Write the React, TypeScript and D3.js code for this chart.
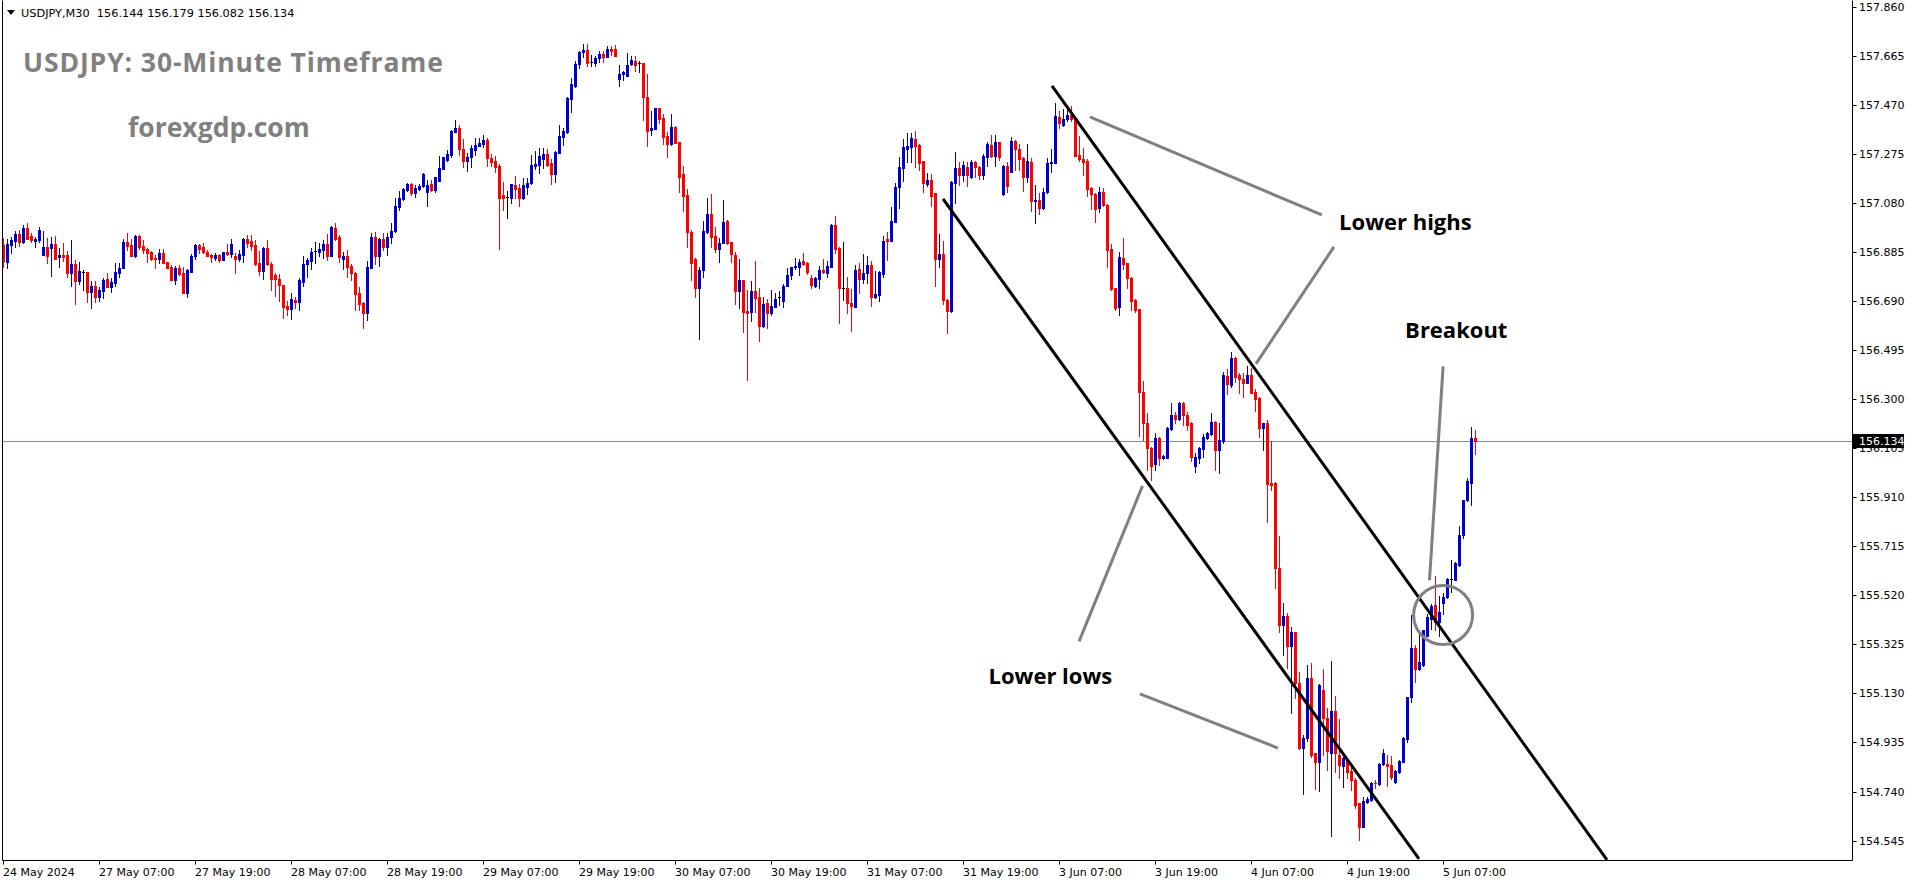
import React from "react";
import * as d3 from "d3";

// ---- OHLC data (USDJPY M30), bar 0 = 24 May 2024 ----
const opens = [
156.913,156.847,156.914,156.929,156.957,156.925,156.979,156.949,156.930,156.933,
156.874,156.905,156.902,156.917,156.863,156.873,156.873,156.803,156.837,156.771,
156.807,156.806,156.727,156.750,156.704,156.731,156.778,156.745,156.763,156.803,
156.823,156.925,156.913,156.867,156.949,156.909,156.897,156.886,156.860,156.857,
156.880,156.844,156.825,156.774,156.823,156.800,156.723,156.807,156.869,156.913,
156.904,156.886,156.873,156.860,156.874,156.853,156.886,156.877,156.867,156.857,
156.874,156.937,156.929,156.913,156.840,156.811,156.901,156.839,156.794,156.778,
156.754,156.670,156.658,156.694,156.688,156.767,156.838,156.851,156.889,156.886,
156.893,156.917,156.869,156.982,156.946,156.859,156.869,156.831,156.803,156.723,
156.684,156.641,156.823,156.944,156.867,156.937,156.906,156.944,156.969,157.063,
157.096,157.132,157.156,157.121,157.136,157.149,157.125,157.156,157.132,157.169,
157.215,157.251,157.271,157.363,157.377,157.295,157.248,157.262,157.291,157.308,
157.315,157.330,157.258,157.247,157.227,157.112,157.102,157.101,157.152,157.138,
157.101,157.145,157.158,157.228,157.231,157.255,157.275,157.238,157.195,157.280,
157.344,157.363,157.493,157.545,157.631,157.678,157.688,157.642,157.638,157.658,
157.672,157.662,157.691,157.691,157.573,157.592,157.583,157.631,157.646,157.635,
157.638,157.503,157.370,157.374,157.456,157.417,157.346,157.313,157.383,157.324,
157.195,157.112,156.966,156.857,156.743,156.814,156.966,157.036,156.949,156.896,
156.922,157.008,156.924,156.873,156.731,156.774,156.651,156.648,156.730,156.704,
156.592,156.681,156.641,156.668,156.704,156.692,156.751,156.794,156.824,156.827,
156.849,156.840,156.781,156.751,156.777,156.814,156.800,156.827,156.993,156.900,
156.743,156.741,156.681,156.668,156.816,156.777,156.803,156.834,156.704,156.714,
156.796,156.936,156.930,157.006,157.145,157.220,157.295,157.304,157.334,157.311,
157.247,157.156,157.171,157.121,156.857,156.877,156.694,156.651,157.161,157.218,
157.191,157.222,157.182,157.244,157.222,157.191,157.264,157.311,157.267,157.321,
157.115,157.227,157.204,157.328,157.293,157.258,157.184,157.244,157.089,157.092,
157.059,157.122,157.240,157.238,157.423,157.390,157.413,157.430,157.414,157.271,
157.255,157.247,157.138,157.116,157.059,157.125,157.072,156.897,156.741,156.665,
156.860,156.840,156.783,156.694,156.659,156.330,156.204,156.107,156.041,156.147,
156.067,156.067,156.181,156.237,156.221,156.286,156.237,156.204,156.034,156.067,
156.102,156.144,156.160,156.211,156.098,156.134,156.392,156.356,156.465,156.396,
156.379,156.363,156.396,156.330,156.306,156.187,156.206,155.966,155.966,155.630,
155.402,155.438,155.319,155.376,155.173,154.914,154.952,155.190,154.892,154.856,
155.144,155.034,154.893,155.060,154.885,154.843,154.866,154.823,154.786,154.695,
154.600,154.700,154.707,154.773,154.770,154.850,154.850,154.846,154.779,154.819,
154.859,154.948,155.117,155.312,155.226,155.243,155.360,155.426,155.482,155.413,
155.491,155.512,155.584,155.581,155.641,155.760,155.899,155.968,156.144];

const highs = [
156.940,156.936,156.946,156.969,156.973,156.992,157.002,156.959,156.946,156.986,
156.969,156.940,156.944,156.949,156.900,156.920,156.889,156.933,156.853,156.847,
156.814,156.806,156.771,156.770,156.745,156.783,156.801,156.781,156.843,156.843,
156.936,156.962,156.936,156.953,156.953,156.933,156.900,156.890,156.873,156.897,
156.897,156.847,156.834,156.830,156.834,156.824,156.816,156.877,156.917,156.917,
156.920,156.893,156.876,156.880,156.877,156.886,156.917,156.936,156.880,156.893,
156.942,156.953,156.953,156.933,156.890,156.906,156.933,156.847,156.800,156.798,
156.754,156.692,156.721,156.704,156.781,156.870,156.860,156.900,156.926,156.920,
156.933,156.957,156.989,157.000,156.953,156.886,156.893,156.838,156.807,156.747,
156.688,156.851,156.962,156.966,156.940,156.962,156.962,157.002,157.099,157.129,
157.139,157.161,157.158,157.152,157.156,157.200,157.171,157.171,157.184,157.268,
157.264,157.291,157.370,157.410,157.390,157.334,157.277,157.311,157.337,157.337,
157.350,157.337,157.275,157.267,157.235,157.162,157.127,157.156,157.187,157.156,
157.178,157.178,157.271,157.288,157.297,157.297,157.295,157.254,157.287,157.390,
157.379,157.503,157.576,157.644,157.684,157.712,157.712,157.668,157.664,157.684,
157.684,157.704,157.704,157.708,157.629,157.605,157.675,157.664,157.666,157.646,
157.638,157.593,157.447,157.456,157.456,157.434,157.363,157.434,157.386,157.324,
157.227,157.136,156.973,156.860,156.824,157.010,157.101,157.116,156.983,156.940,
157.092,157.012,156.924,156.884,156.857,156.774,156.734,156.770,156.849,156.741,
156.705,156.697,156.734,156.723,156.730,156.758,156.820,156.827,156.860,156.857,
156.880,156.844,156.794,156.785,156.831,156.856,156.851,156.997,157.028,156.906,
156.926,156.787,156.737,156.834,156.840,156.877,156.867,156.851,156.811,156.811,
156.949,156.966,157.065,157.158,157.264,157.334,157.359,157.357,157.366,157.315,
157.247,157.198,157.195,157.121,156.957,156.930,156.697,157.167,157.284,157.244,
157.248,157.244,157.251,157.247,157.227,157.274,157.324,157.350,157.350,157.324,
157.231,157.244,157.341,157.330,157.315,157.262,157.315,157.258,157.152,157.118,
157.138,157.258,157.293,157.479,157.447,157.454,157.450,157.466,157.417,157.346,
157.297,157.254,157.145,157.119,157.145,157.138,157.075,156.916,156.741,156.884,
156.942,156.840,156.785,156.697,156.659,156.372,156.246,156.111,156.167,156.151,
156.078,156.191,156.284,156.250,156.290,156.290,156.250,156.210,156.085,156.111,
156.162,156.168,156.246,156.215,156.207,156.409,156.419,156.489,156.469,156.403,
156.403,156.432,156.423,156.339,156.310,156.204,156.217,156.134,155.972,155.756,
155.489,155.451,155.396,155.376,155.217,154.965,155.243,155.250,154.892,155.168,
155.226,155.071,155.259,155.120,155.029,154.878,154.872,154.839,154.793,154.695,
154.720,154.720,154.779,154.786,154.852,154.908,154.885,154.881,154.826,154.866,
154.958,155.117,155.442,155.323,155.369,155.382,155.445,155.486,155.597,155.518,
155.528,155.588,155.661,155.654,155.796,155.899,155.985,156.188,156.179];

const lows = [
156.827,156.823,156.882,156.906,156.910,156.920,156.936,156.926,156.906,156.926,
156.873,156.840,156.791,156.859,156.827,156.851,156.787,156.751,156.679,156.757,
156.734,156.688,156.664,156.688,156.692,156.701,156.745,156.727,156.750,156.787,
156.821,156.893,156.867,156.864,156.896,156.880,156.847,156.853,156.823,156.840,
156.840,156.821,156.774,156.758,156.794,156.723,156.707,156.807,156.857,156.882,
156.880,156.867,156.845,156.853,156.847,156.853,156.873,156.864,156.803,156.851,
156.847,156.906,156.893,156.834,156.794,156.778,156.834,156.734,156.710,156.692,
156.624,156.635,156.619,156.664,156.655,156.750,156.787,156.816,156.843,156.869,
156.860,156.853,156.869,156.932,156.847,156.818,156.787,156.774,156.655,156.655,
156.584,156.615,156.823,156.838,156.830,156.893,156.873,156.920,156.963,157.052,
157.092,157.129,157.112,157.105,157.132,157.145,157.069,157.129,157.125,157.169,
157.215,157.248,157.264,157.363,157.271,157.224,157.208,157.224,157.271,157.307,
157.304,157.227,157.227,157.204,156.897,157.052,157.022,157.081,157.099,157.068,
157.096,157.116,157.156,157.214,157.200,157.218,157.228,157.156,157.165,157.280,
157.311,157.357,157.443,157.542,157.615,157.659,157.626,157.626,157.626,157.642,
157.642,157.659,157.668,157.664,157.546,157.569,157.583,157.629,157.606,157.599,
157.410,157.307,157.350,157.374,157.399,157.315,157.264,157.311,157.317,157.125,
157.049,156.906,156.774,156.704,156.538,156.785,156.962,156.906,156.884,156.847,
156.920,156.917,156.844,156.677,156.661,156.568,156.376,156.612,156.648,156.531,
156.588,156.582,156.635,156.665,156.674,156.668,156.750,156.777,156.816,156.794,
156.834,156.796,156.741,156.747,156.741,156.800,156.787,156.824,156.880,156.604,
156.694,156.641,156.572,156.668,156.723,156.761,156.761,156.672,156.701,156.692,
156.787,156.853,156.930,157.006,157.061,157.169,157.244,157.244,157.224,157.211,
157.125,157.148,157.069,156.751,156.827,156.679,156.562,156.648,157.081,157.152,
157.169,157.148,157.178,157.182,157.174,157.174,157.228,157.264,157.228,157.251,
157.112,157.125,157.204,157.211,157.211,157.129,157.165,157.049,156.999,157.036,
157.056,157.119,157.204,157.238,157.377,157.387,157.407,157.407,157.267,157.248,
157.191,157.108,157.056,157.006,157.045,157.069,156.827,156.734,156.655,156.635,
156.818,156.741,156.655,156.645,156.155,156.138,156.019,155.979,156.019,156.038,
156.062,156.065,156.177,156.204,156.217,156.197,156.177,156.054,156.012,156.048,
156.069,156.142,156.158,156.019,156.008,156.125,156.319,156.350,156.367,156.326,
156.310,156.363,156.323,156.253,156.151,156.098,155.810,155.939,155.548,155.376,
155.283,155.230,155.054,155.111,154.908,154.730,154.942,154.879,154.749,154.743,
154.885,154.826,154.563,154.818,154.794,154.760,154.793,154.746,154.673,154.548,
154.598,154.696,154.703,154.753,154.766,154.846,154.763,154.789,154.775,154.815,
154.857,154.938,155.095,155.177,155.223,155.240,155.358,155.385,155.382,155.360,
155.446,155.510,155.535,155.579,155.638,155.747,155.896,155.879,156.082];

const closes = [
156.849,156.917,156.933,156.957,156.926,156.982,156.937,156.933,156.937,156.973,
156.905,156.867,156.917,156.859,156.873,156.864,156.803,156.837,156.771,156.810,
156.807,156.727,156.750,156.704,156.734,156.774,156.747,156.767,156.806,156.821,
156.925,156.910,156.869,156.949,156.906,156.893,156.882,156.857,156.859,156.880,
156.843,156.823,156.774,156.821,156.798,156.723,156.814,156.869,156.913,156.897,
156.884,156.869,156.863,156.873,156.853,156.886,156.877,156.917,156.859,156.877,
156.938,156.920,156.909,156.838,156.811,156.901,156.838,156.778,156.777,156.754,
156.668,156.658,156.698,156.688,156.774,156.838,156.853,156.886,156.889,156.897,
156.917,156.869,156.986,156.936,156.863,156.867,156.827,156.803,156.718,156.679,
156.641,156.826,156.944,156.867,156.937,156.906,156.944,156.970,157.068,157.099,
157.135,157.156,157.121,157.140,157.149,157.195,157.152,157.132,157.184,157.220,
157.262,157.275,157.367,157.379,157.293,157.248,157.264,157.297,157.311,157.320,
157.329,157.258,157.244,157.224,157.101,157.099,157.102,157.155,157.136,157.101,
157.152,157.161,157.231,157.235,157.267,157.275,157.231,157.195,157.281,157.346,
157.366,157.499,157.552,157.633,157.680,157.688,157.638,157.642,157.655,157.672,
157.662,157.692,157.685,157.666,157.593,157.600,157.629,157.649,157.629,157.635,
157.503,157.366,157.379,157.456,157.414,157.344,157.313,157.381,157.320,157.184,
157.109,156.966,156.840,156.743,156.814,156.970,157.036,156.946,156.897,156.920,
157.006,156.920,156.877,156.731,156.774,156.648,156.644,156.730,156.701,156.592,
156.679,156.641,156.670,156.697,156.704,156.751,156.794,156.827,156.830,156.844,
156.838,156.807,156.754,156.781,156.814,156.804,156.830,156.993,156.896,156.741,
156.743,156.681,156.670,156.814,156.777,156.803,156.834,156.704,156.718,156.807,
156.930,156.930,157.008,157.145,157.224,157.304,157.307,157.337,157.307,157.240,
157.158,157.171,157.109,156.857,156.877,156.694,156.651,157.165,157.218,157.191,
157.231,157.191,157.244,157.222,157.191,157.268,157.313,157.267,157.321,157.264,
157.227,157.149,157.328,157.293,157.255,157.184,157.248,157.089,157.092,157.061,
157.125,157.240,157.244,157.426,157.397,157.413,157.430,157.413,157.268,157.255,
157.244,157.136,157.115,157.056,157.125,157.072,156.893,156.738,156.661,156.863,
156.838,156.781,156.690,156.655,156.330,156.204,156.107,156.034,156.147,156.067,
156.074,156.187,156.237,156.221,156.286,156.237,156.197,156.070,156.070,156.107,
156.148,156.164,156.211,156.098,156.138,156.396,156.359,156.465,156.389,156.380,
156.363,156.396,156.326,156.301,156.187,156.204,155.962,155.959,155.628,155.402,
155.438,155.319,155.376,155.170,154.914,154.952,155.190,154.885,154.859,155.164,
155.031,154.903,155.060,154.893,154.846,154.874,154.819,154.786,154.687,154.600,
154.702,154.710,154.774,154.772,154.850,154.895,154.843,154.799,154.823,154.862,
154.954,155.117,155.312,155.226,155.256,155.382,155.435,155.479,155.415,155.453,
155.515,155.585,155.584,155.650,155.760,155.899,155.975,156.144,156.134];

const priceTicks = [157.860,157.665,157.470,157.275,157.080,156.885,156.690,156.495,156.300,
  156.105,155.910,155.715,155.520,155.325,155.130,154.935,154.740,154.545];

const timeLabels = ["24 May 2024","27 May 07:00","27 May 19:00","28 May 07:00","28 May 19:00",
  "29 May 07:00","29 May 19:00","30 May 07:00","30 May 19:00","31 May 07:00","31 May 19:00",
  "3 Jun 07:00","3 Jun 19:00","4 Jun 07:00","4 Jun 19:00","5 Jun 07:00"];
const BARS_PER_LABEL = 24;

const lastPrice = 156.134;
const headerText = "USDJPY,M30  156.144 156.179 156.082 156.134";

// drawn objects: [barIndex, price]
const channelLines = [
  [[262.125, 157.545], [400.875, 154.468]],
  [[234.875, 157.096], [353.875, 154.472]],
];
const pointerLines = [
  [[271.6, 157.422], [329.6, 157.032]],
  [[332.6, 156.905], [313.1, 156.440]],
  [[284.75, 155.955], [268.9, 155.337]],
  [[284.1, 155.128], [318.6, 154.913]],
  [[359.9, 156.430], [356.5, 155.580]],
];
const breakoutCircle = { bar: 359.9, price: 155.442 };
const notes = [
  { text: "Lower highs", bar: 333.9, price: 156.973 },
  { text: "Breakout", bar: 350.4, price: 156.541 },
  { text: "Lower lows", bar: 246.25, price: 155.168 },
];

export default function App() {
  const W = 1916, H = 884;
  const L = 2.5, R = 1852.5, T = 0.5, B = 860.5;
  const x = d3.scaleLinear().domain([0, 1]).range([3.5, 7.5]);
  const y = d3.scaleLinear().domain([154.545, 157.860]).range([840.6, 6.7]);
  const BLUE = "#0000cd", RED = "#ff0000";
  const axisFont = "'DejaVu Sans', sans-serif";
  const lineGen = d3.line<number[]>().x(d => x(d[0])).y(d => y(d[1]));

  const candles = opens.map((o, i) => {
    const c = closes[i];
    const col = c > o ? BLUE : c < o ? RED : "#000";
    const cx = x(i);
    const yt = Math.round(y(Math.max(o, c)));
    const yb = Math.round(y(Math.min(o, c)));
    const yh = Math.round(y(highs[i]));
    const yl = Math.round(y(lows[i]));
    return (
      <g key={i}>
        <rect x={cx - 0.5} y={yh} width={1} height={yl - yh + 1} fill={col} />
        <rect x={cx - 1.5} y={yt} width={3} height={yb - yt + 1} fill={col} />
      </g>
    );
  });

  const lastY = y(lastPrice);

  return (
    <div>
      <style>{`body{margin:0;background:#fff}`}</style>
      <svg width={W} height={H} style={{ display: "block", background: "#fff" }}>
        <defs>
          <clipPath id="plot">
            <rect x={L} y={T} width={R - L} height={B - T} />
          </clipPath>
        </defs>
        <rect x={0} y={0} width={W} height={H} fill="#fff" />
        {/* watermark texts */}
        <text x={23} y={72} fontFamily="'Open Sans', sans-serif" fontWeight={700} fontSize={26.5} letterSpacing={0.9} fill="#808080">
          USDJPY: 30-Minute Timeframe
        </text>
        <text x={128} y={137} fontFamily="'Open Sans', sans-serif" fontWeight={700} fontSize={26.5} fill="#808080">
          forexgdp.com
        </text>
        {/* last price line */}
        <line x1={L} x2={R} y1={Math.round(lastY) + 0.5} y2={Math.round(lastY) + 0.5} stroke="#8090a0" strokeWidth={1} />
        <g clipPath="url(#plot)">{candles}</g>
        {/* channel lines */}
        <g clipPath="url(#plot)">
          {channelLines.map((l, k) => (
            <path key={k} d={lineGen(l) || ""} stroke="#000" strokeWidth={3} fill="none" />
          ))}
          {pointerLines.map((l, k) => (
            <path key={k} d={lineGen(l) || ""} stroke="#808080" strokeWidth={3} fill="none" />
          ))}
          <circle cx={x(breakoutCircle.bar)} cy={y(breakoutCircle.price)} r={29.5} stroke="#808080" strokeWidth={3} fill="none" />
        </g>
        {notes.map((n, k) => (
          <text key={k} x={x(n.bar)} y={y(n.price)} fontFamily="'Open Sans', sans-serif" fontWeight={700} fontSize={22} fill="#000">
            {n.text}
          </text>
        ))}
        {/* frame */}
        <path d={`M${L},${T}V${B}H${R}V${T}`} stroke="#000" strokeWidth={1} fill="none" />
        {/* header */}
        <path d="M7,10L15,10L11,15Z" fill="#000" />
        <text x={21} y={16.5} fontFamily={axisFont} fontSize={11.3} fill="#000" style={{ whiteSpace: "pre" }}>
          {headerText}
        </text>
        {/* price axis */}
        {priceTicks.map((v, k) => (
          <g key={k}>
            <line x1={R} x2={R + 4} y1={Math.round(y(v)) + 0.5} y2={Math.round(y(v)) + 0.5} stroke="#000" />
            <text x={1859} y={y(v) + 4} fontFamily={axisFont} fontSize={11} fill="#000">
              {v.toFixed(3)}
            </text>
          </g>
        ))}
        <rect x={1853} y={Math.round(lastY) - 7} width={51} height={14} fill="#000" />
        <text x={1859} y={lastY + 4.5} fontFamily={axisFont} fontSize={11} fill="#fff">
          {lastPrice.toFixed(3)}
        </text>
        {/* time axis */}
        {timeLabels.map((t, k) => {
          const tx = Math.round(x(k * BARS_PER_LABEL) - 0.5) + 0.5;
          return (
            <g key={k}>
              <line x1={tx} x2={tx} y1={B} y2={B + 4} stroke="#000" />
              <text x={tx - 0.5} y={875.5} fontFamily={axisFont} fontSize={11} fill="#000">
                {t}
              </text>
            </g>
          );
        })}
      </svg>
    </div>
  );
}
